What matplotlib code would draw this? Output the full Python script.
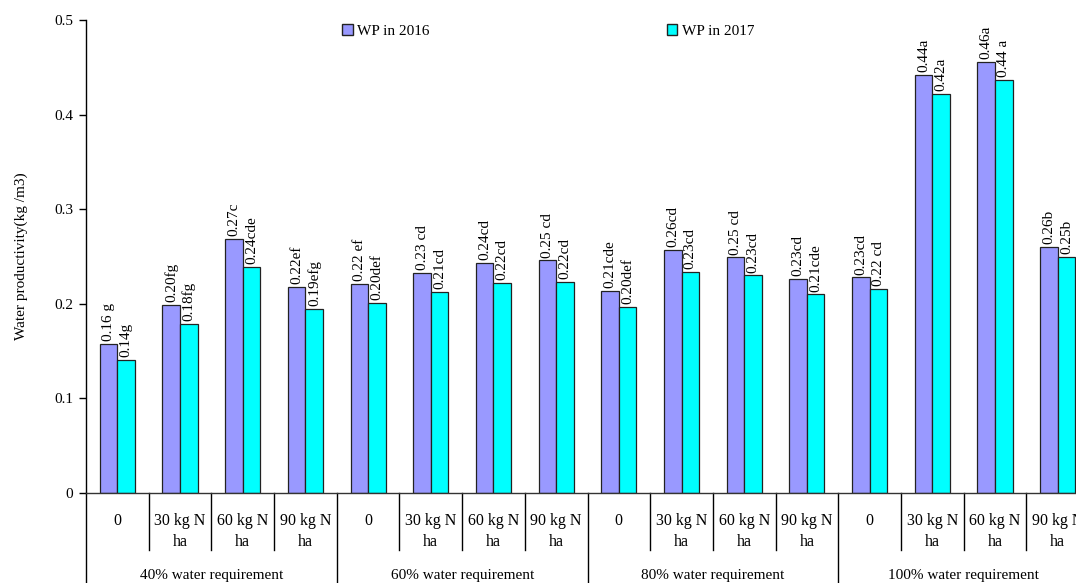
import numpy as np
import matplotlib
matplotlib.use("Agg")
import matplotlib.pyplot as plt
from matplotlib.patches import Patch

plt.rcParams['font.family'] = ['Liberation Serif', 'DejaVu Serif']

# data
treatments = ["0", "30 kg N\nha", "60 kg N\nha", "90 kg N\nha"]
water_levels = ["40% water requirement", "60% water requirement",
                "80% water requirement", "100% water requirement"]

wp_2016 = [0.158, 0.199, 0.269, 0.218,
           0.221, 0.233, 0.243, 0.246,
           0.214, 0.257, 0.249, 0.226,
           0.228, 0.442, 0.456, 0.260]
wp_2017 = [0.141, 0.179, 0.239, 0.195,
           0.201, 0.213, 0.222, 0.223,
           0.197, 0.234, 0.230, 0.210,
           0.216, 0.422, 0.437, 0.250]

lab_2016 = ["0.16 g", "0.20fg", "0.27c", "0.22ef",
            "0.22 ef", "0.23 cd", "0.24cd", "0.25 cd",
            "0.21cde", "0.26cd", "0.25 cd", "0.23cd",
            "0.23cd", "0.44a", "0.46a", "0.26b"]
lab_2017 = ["0.14g", "0.18fg", "0.24cde", "0.19efg",
            "0.20def", "0.21cd", "0.22cd", "0.22cd",
            "0.20def", "0.23cd", "0.23cd", "0.21cde",
            "0.22 cd", "0.42a", "0.44 a", "0.25b"]

c2016 = "#9999FF"
c2017 = "#00FFFF"

W, H = 1076, 583
fig = plt.figure(figsize=(W / 100, H / 100), dpi=100)
# axes runs past the right edge like in the original
ax = fig.add_axes([86 / W, (H - 493) / H, 1003 / W, 473 / H])

n = len(wp_2016)
x = np.arange(n)
bw = 0.28
ax.bar(x - bw / 2, wp_2016, bw, color=c2016, edgecolor="#222222", linewidth=0.9)
ax.bar(x + bw / 2, wp_2017, bw, color=c2017, edgecolor="#222222", linewidth=0.9)

for i in range(n):
    ax.annotate(lab_2016[i], (x[i] - bw / 2, wp_2016[i]), xytext=(0, 2),
                textcoords="offset points", rotation=90, ha="center", va="bottom",
                fontsize=11)
    ax.annotate(lab_2017[i], (x[i] + bw / 2, wp_2017[i]), xytext=(0, 2),
                textcoords="offset points", rotation=90, ha="center", va="bottom",
                fontsize=11)

ax.set_xlim(-0.5, n - 0.5)
ax.set_ylim(0, 0.5)
ax.set_yticks([0, 0.1, 0.2, 0.3, 0.4, 0.5])
ax.set_yticklabels(["0", "0.1", "0.2", "0.3", "0.4", "0.5"], fontsize=11)
ax.tick_params(axis="y", direction="out", length=5, width=1, pad=4)
ax.set_xticks([])
ax.spines["top"].set_visible(False)
ax.spines["right"].set_visible(False)
ax.spines["left"].set_linewidth(1)
ax.spines["bottom"].set_linewidth(1)
ax.spines["bottom"].set_color("#333333")

ax.set_ylabel("Water productivity(kg /m3)", fontsize=11, labelpad=19)

# category separators and labels below the axis
trans = ax.get_xaxis_transform()
short = -(550 - 493) / 473
long_ = -(600 - 493) / 473
for b in np.arange(-0.5, n, 1.0):
    if int(b + 0.5) % 4 == 0:
        ax.plot([b, b], [0, long_], color="black", lw=1, transform=trans, clip_on=False)
    else:
        ax.plot([b, b], [0, short], color="black", lw=1, transform=trans, clip_on=False)

for i in range(n):
    ax.text(x[i], -(513 - 493) / 473, treatments[i % 4], transform=trans,
            ha="center", va="top", fontsize=11.5, linespacing=1.45)

for g in range(len(water_levels)):
    ax.text(g * 4 + 1.5, -(575 - 493) / 473, water_levels[g], transform=trans,
            ha="center", va="center", fontsize=11)

handles = [Patch(facecolor=c2016, edgecolor="#222222", label="WP in 2016"),
           Patch(facecolor=c2017, edgecolor="#222222", label="WP in 2017")]
fig.legend(handles=handles, loc="center left", ncol=2, frameon=False,
           bbox_to_anchor=(342 / W, 1 - 31 / H), borderpad=0, borderaxespad=0,
           handlelength=0.7, handleheight=0.7, handletextpad=0.3,
           columnspacing=15.5, fontsize=11)

fig.savefig("out.png", dpi=100)
